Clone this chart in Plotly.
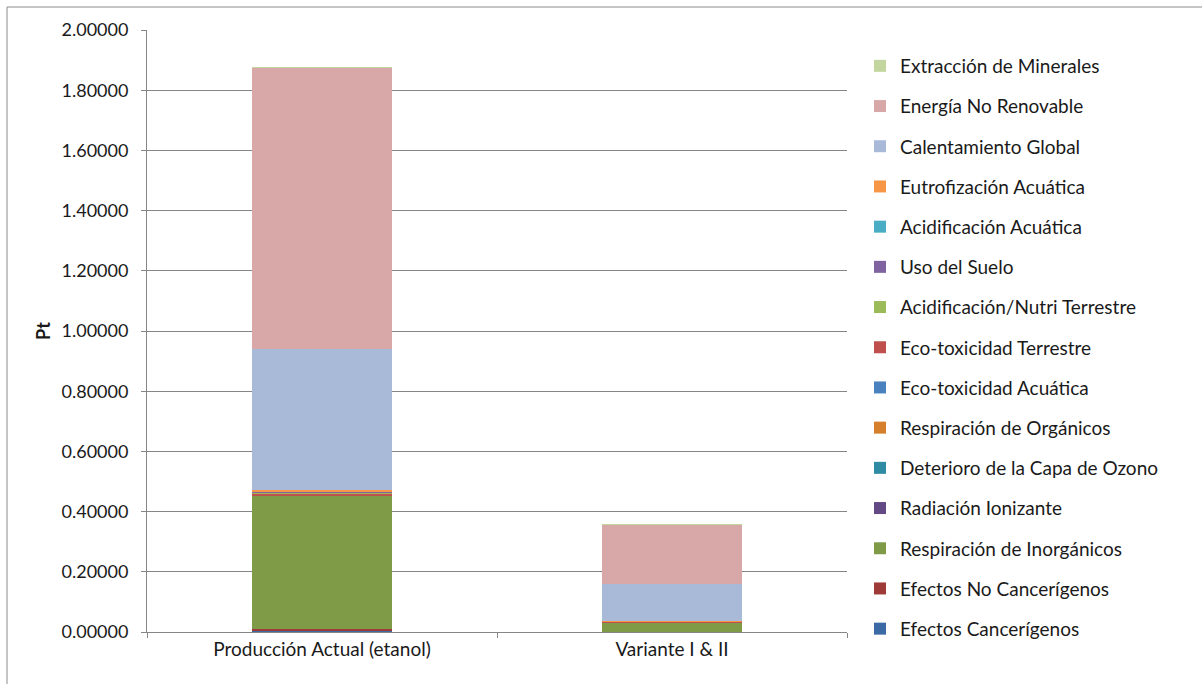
import plotly.graph_objects as go

categories = ["Producción Actual (etanol)", "Variante I & II"]

series_names = [
    "Efectos Cancerígenos",
    "Efectos No Cancerígenos",
    "Respiración de Inorgánicos",
    "Radiación Ionizante",
    "Deterioro de la Capa de Ozono",
    "Respiración de Orgánicos",
    "Eco-toxicidad Acuática",
    "Eco-toxicidad Terrestre",
    "Acidificación/Nutri Terrestre",
    "Uso del Suelo",
    "Acidificación Acuática",
    "Eutrofización Acuática",
    "Calentamiento Global",
    "Energía No Renovable",
    "Extracción de Minerales",
]

efectos_cancerigenos = [0.003, 0.0005]
efectos_no_cancerigenos = [0.008, 0.001]
respiracion_inorganicos = [0.441, 0.031]
radiacion_ionizante = [0.001, 0.0002]
deterioro_ozono = [0.0001, 0.0001]
respiracion_organicos = [0.0005, 0.0001]
ecotox_acuatica = [0.001, 0.0002]
ecotox_terrestre = [0.004, 0.0005]
acidificacion_nutri = [0.004, 0.0005]
uso_suelo = [0.004, 0.0005]
acidificacion_acuatica = [0.0005, 0.0001]
eutrofizacion = [0.005, 0.0005]
calentamiento_global = [0.469, 0.124]
energia_no_renovable = [0.933, 0.197]
extraccion_minerales = [0.0005, 0.0001]

series_values = [
    efectos_cancerigenos, efectos_no_cancerigenos, respiracion_inorganicos,
    radiacion_ionizante, deterioro_ozono, respiracion_organicos, ecotox_acuatica,
    ecotox_terrestre, acidificacion_nutri, uso_suelo, acidificacion_acuatica,
    eutrofizacion, calentamiento_global, energia_no_renovable, extraccion_minerales,
]

colors = [
    "#3C6AA5", "#9E3A38", "#7F9B48", "#634A85", "#2F8AA4", "#D67F2C",
    "#4A81BF", "#C0504D", "#9BBB59", "#8064A2", "#4BACC6", "#F79646",
    "#A9B9D8", "#D8A8A8", "#C4D6A0",
]

tick_vals = [0, 0.2, 0.4, 0.6, 0.8, 1.0, 1.2, 1.4, 1.6, 1.8, 2.0]

fig = go.Figure()
n = len(series_names)
for i, (name, vals, col) in enumerate(zip(series_names, series_values, colors)):
    fig.add_trace(go.Bar(
        x=categories, y=vals, name=name, marker=dict(color=col, line=dict(width=0)),
        legendgroup=name, legendrank=n - i,
    ))

W, H = 1202, 684
L, R, T, B = 147, 355, 30, 52
pw = W - L - R
ph = H - T - B

def px_x(p):
    return (p - L) / pw

def px_y(p):
    return (H - B - p) / ph

fig.update_layout(
    width=W, height=H,
    barmode="stack", bargap=0.6,
    margin=dict(l=L, r=R, t=T, b=B, pad=0, autoexpand=False),
    paper_bgcolor="white", plot_bgcolor="white",
    font=dict(family="Lato, Carlito, sans-serif", color="#1a1a1a"),
    showlegend=True,
    legend=dict(
        traceorder="grouped", tracegroupgap=12.5,
        x=px_x(860), xanchor="left",
        y=px_y(47), yanchor="top",
        font=dict(size=19, color="#1a1a1a"),
        itemwidth=30, bgcolor="rgba(0,0,0,0)",
    ),
    xaxis=dict(
        showline=True, linecolor="#868686", linewidth=1,
        ticks="outside", tickson="boundaries", ticklen=5, tickcolor="#868686",
        tickfont=dict(size=19, color="#1a1a1a"), showgrid=False,
    ),
    yaxis=dict(
        range=[0, 2.0], tickvals=tick_vals, tickformat=".5f",
        showgrid=True, gridcolor="#868686", gridwidth=1,
        showline=True, linecolor="#868686", linewidth=1,
        ticks="outside", ticklen=5, tickcolor="#868686",
        ticklabelstandoff=9,
        tickfont=dict(size=18, color="#1a1a1a"), zeroline=False,
        title=dict(text="<b>Pt</b>", font=dict(size=18, color="#1a1a1a"), standoff=6),
    ),
    shapes=[dict(
        type="rect", xref="paper", yref="paper",
        x0=px_x(7), x1=px_x(1220), y0=px_y(700), y1=px_y(7),
        line=dict(color="#8C8C8C", width=1), fillcolor="rgba(0,0,0,0)",
        layer="below",
    )],
)

fig.write_html("out.html")
